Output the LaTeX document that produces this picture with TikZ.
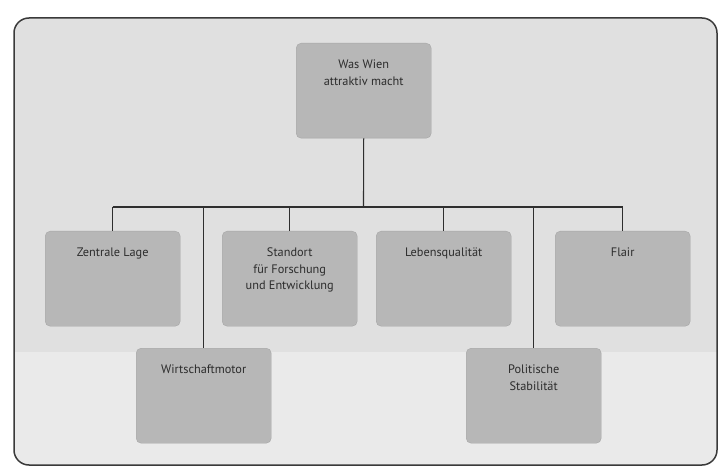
\documentclass[tikz,border=0pt]{standalone}
\usepackage{fontspec}
\setmainfont{PT Sans}
\definecolor{boxfill}{HTML}{B7B7B7}
\definecolor{boxedge}{HTML}{A6A6A6}
\definecolor{bgup}{HTML}{E0E0E0}
\definecolor{bglow}{HTML}{EAEAEA}
\definecolor{txt}{HTML}{2C2C2C}
\definecolor{linec}{HTML}{2E2E2E}
\definecolor{framec}{HTML}{3A3A3A}
\begin{document}
\begin{tikzpicture}[x=1pt,y=-1pt,
  box/.style={draw=boxedge, fill=boxfill, rounded corners=5pt, minimum width=135pt, minimum height=95pt, anchor=north west, inner sep=0pt},
  lbl/.style={anchor=north, align=center, font=\fontsize{12.3}{16.3}\selectfont, text=txt, inner sep=0pt},
  conn/.style={draw=linec, line width=1.1pt}]
\useasboundingbox (0,0) rectangle (721,468);
% frame background
\begin{scope}
  \clip[rounded corners=15pt] (14,18) rectangle (717,465);
  \fill[bgup] (14,18) rectangle (717,352);
  \fill[bglow] (14,352) rectangle (717,465);
\end{scope}
\draw[framec, line width=1.5pt, rounded corners=15pt] (14,18) rectangle (717,465);
% boxes
\node[box] (top) at (296,43) {};
\node[box] (zl) at (45,231) {};
\node[box] (sfe) at (222,231) {};
\node[box] (lq) at (376,231) {};
\node[box] (flair) at (555,231) {};
\node[box] (wm) at (136,348) {};
\node[box] (ps) at (466,348) {};
% labels
\node[lbl] (ttop) at ([yshift=-17pt]top.north) {Was Wien\\attraktiv macht};
\node[lbl] (tzl) at ([yshift=-17pt]zl.north) {Zentrale Lage};
\node[lbl] (tsfe) at ([yshift=-17pt]sfe.north) {Standort\\für Forschung\\und Entwicklung};
\node[lbl] (tlq) at ([yshift=-17pt]lq.north) {Lebensqualität};
\node[lbl] (tflair) at ([yshift=-17pt]flair.north) {Flair};
\node[lbl] (twm) at ([yshift=-17pt]wm.north) {Wirtschaftmotor};
\node[lbl] (tps) at ([yshift=-17pt]ps.north) {Politische\\Stabilität};
% connectors
\coordinate (bus) at (363.5,207);
\draw[conn] (top.south) -- (bus);
\draw[conn] (bus -| zl.north) -- (bus -| flair.north);
\foreach \n in {zl,sfe,lq,flair,wm,ps}
  \draw[conn] (bus -| \n.north) -- (\n.north);
\end{tikzpicture}
\end{document}
